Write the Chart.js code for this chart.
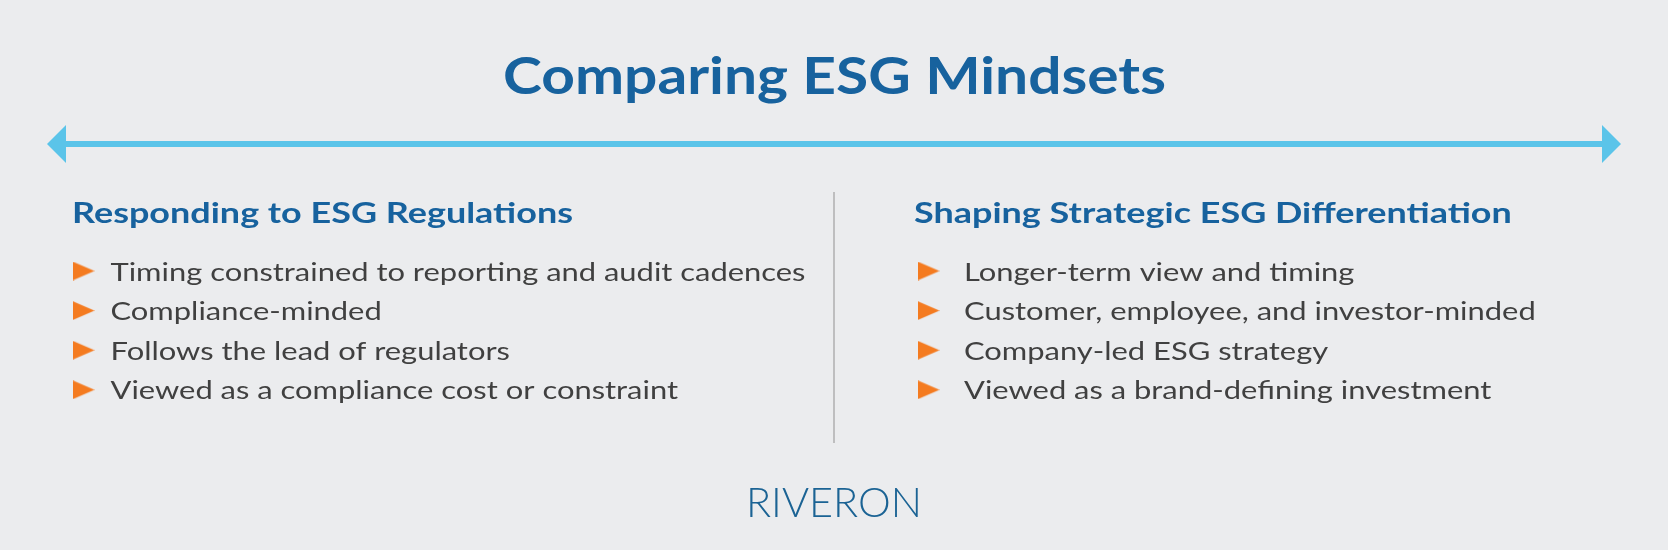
<!DOCTYPE html>
<html>
<head>
<meta charset="utf-8">
<title>Comparing ESG Mindsets</title>
<script src="https://cdn.jsdelivr.net/npm/chart.js@4.4.0/dist/chart.umd.min.js"></script>
<style>
    html, body { margin: 0; padding: 0; background: #ebecee; }
    #wrap { width: 1668px; height: 550px; position: relative; }
</style>
</head>
<body>
<div id="wrap"><canvas id="esgChart"></canvas></div>
<script>
// --- content ---
const title = 'Comparing ESG Mindsets';
const columnTitles = ['Responding to ESG Regulations', 'Shaping Strategic ESG Differentiation'];
const regulationItems = [
    'Timing constrained to reporting and audit cadences',
    'Compliance-minded',
    'Follows the lead of regulators',
    'Viewed as a compliance cost or constraint'
];
const strategyItems = [
    'Longer-term view and timing',
    'Customer, employee, and investor-minded',
    'Company-led ESG strategy',
    'Viewed as a brand-defining investment'
];
const brand = 'RIVERON';

// --- layout (pixels of the 1668x550 picture) ---
const W = 1668, H = 550;
const colPx = [83.5, 928.5];      // bullet centres of the two columns
const rowPx = 271, rowStep = 39.6; // first bullet row and row spacing
const textOffset = [27, 35.5];    // bullet -> text gap per column
const headOffset = [-11.5, -14.5];

const BLUE = '#17629e';
const TEXT = '#404040';
const ORANGE = '#f47b20';
const ARROW = '#5bc4e9';
const FONT = 'Lato, "Open Sans", sans-serif';

const colUnit = colPx[1] - colPx[0];
const xMin = -colPx[0] / colUnit;
const yMin = -rowPx / rowStep;

// bullet marker: flat right-pointing triangle
const bullet = document.createElement('canvas');
bullet.width = 22;
bullet.height = 19;
(() => {
    const c = bullet.getContext('2d');
    c.fillStyle = ORANGE;
    c.beginPath();
    c.moveTo(0, 0);
    c.lineTo(22, 9.5);
    c.lineTo(0, 19);
    c.closePath();
    c.fill();
})();

function toPoints(items, col) {
    return items.map((label, i) => ({ x: col, y: i, label }));
}

function stretchText(ctx, text, x, y, stretch, align) {
    ctx.save();
    ctx.translate(x, y);
    ctx.scale(stretch, 1);
    ctx.textAlign = align;
    ctx.fillText(text, 0, 0);
    ctx.restore();
}

function fitFactor(ctx, font, text, width) {
    ctx.font = font;
    return width / ctx.measureText(text).width;
}

const infographic = {
    id: 'infographic',
    beforeDraw(chart) {
        const ctx = chart.ctx;
        ctx.save();
        ctx.fillStyle = '#ebecee';
        ctx.fillRect(0, 0, chart.width, chart.height);
        ctx.restore();
    },
    beforeDatasetsDraw(chart) {
        const ctx = chart.ctx;
        const xs = chart.scales.x, ys = chart.scales.y;
        ctx.save();

        // double arrow under the title
        const ay = 144;
        ctx.strokeStyle = ARROW;
        ctx.fillStyle = ARROW;
        ctx.lineWidth = 6;
        ctx.beginPath();
        ctx.moveTo(60, ay);
        ctx.lineTo(1608, ay);
        ctx.stroke();
        ctx.beginPath();
        ctx.moveTo(47, ay);
        ctx.lineTo(66, ay - 19);
        ctx.lineTo(66, ay + 19);
        ctx.closePath();
        ctx.fill();
        ctx.beginPath();
        ctx.moveTo(1621, ay);
        ctx.lineTo(1602, ay - 19);
        ctx.lineTo(1602, ay + 19);
        ctx.closePath();
        ctx.fill();

        // divider between the columns
        ctx.strokeStyle = '#a6a6a6';
        ctx.lineWidth = 1.3;
        ctx.beginPath();
        ctx.moveTo(834, 192);
        ctx.lineTo(834, 443);
        ctx.stroke();

        // title
        ctx.fillStyle = BLUE;
        ctx.textBaseline = 'alphabetic';
        const tFont = `bold 51px ${FONT}`;
        const tStretch = fitFactor(ctx, tFont, title, 663);
        stretchText(ctx, title, 834.5, 94, tStretch, 'center');

        // column headings
        const hFont = `bold 28px ${FONT}`;
        const hStretch = fitFactor(ctx, hFont, columnTitles[0], 501);
        const hy = 223;
        columnTitles.forEach((t, i) => {
            const hx = xs.getPixelForValue(i) + headOffset[i];
            stretchText(ctx, t, hx, hy, hStretch, 'left');
        });

        // logo
        ctx.fillStyle = '#1b6394';
        const lFont = `300 41px ${FONT}`;
        const lStretch = fitFactor(ctx, lFont, brand, 176);
        stretchText(ctx, brand, 834, 517, lStretch, 'center');
        ctx.restore();
    },
    afterDatasetsDraw(chart) {
        const ctx = chart.ctx;
        ctx.save();
        ctx.fillStyle = TEXT;
        ctx.textBaseline = 'alphabetic';
        const bFont = `25px ${FONT}`;
        const bStretch = fitFactor(ctx, bFont, regulationItems[0], 695);
        chart.data.datasets.forEach((ds, di) => {
            const meta = chart.getDatasetMeta(di);
            meta.data.forEach((pt, i) => {
                stretchText(ctx, ds.data[i].label, pt.x + textOffset[di], pt.y + 9.5, bStretch, 'left');
            });
        });
        ctx.restore();
    }
};

new Chart(document.getElementById('esgChart'), {
    type: 'scatter',
    data: {
        datasets: [
            {
                label: columnTitles[0],
                data: toPoints(regulationItems, 0),
                pointStyle: bullet,
                pointRadius: 11
            },
            {
                label: columnTitles[1],
                data: toPoints(strategyItems, 1),
                pointStyle: bullet,
                pointRadius: 11
            }
        ]
    },
    options: {
        responsive: true,
        maintainAspectRatio: false,
        animation: false,
        layout: { padding: 0, autoPadding: false },
        scales: {
            x: { type: 'linear', display: false, min: xMin, max: xMin + W / colUnit },
            y: { type: 'linear', display: false, reverse: true, min: yMin, max: yMin + H / rowStep }
        },
        plugins: {
            legend: { display: false },
            tooltip: { enabled: false }
        }
    },
    plugins: [infographic]
});
</script>
</body>
</html>
